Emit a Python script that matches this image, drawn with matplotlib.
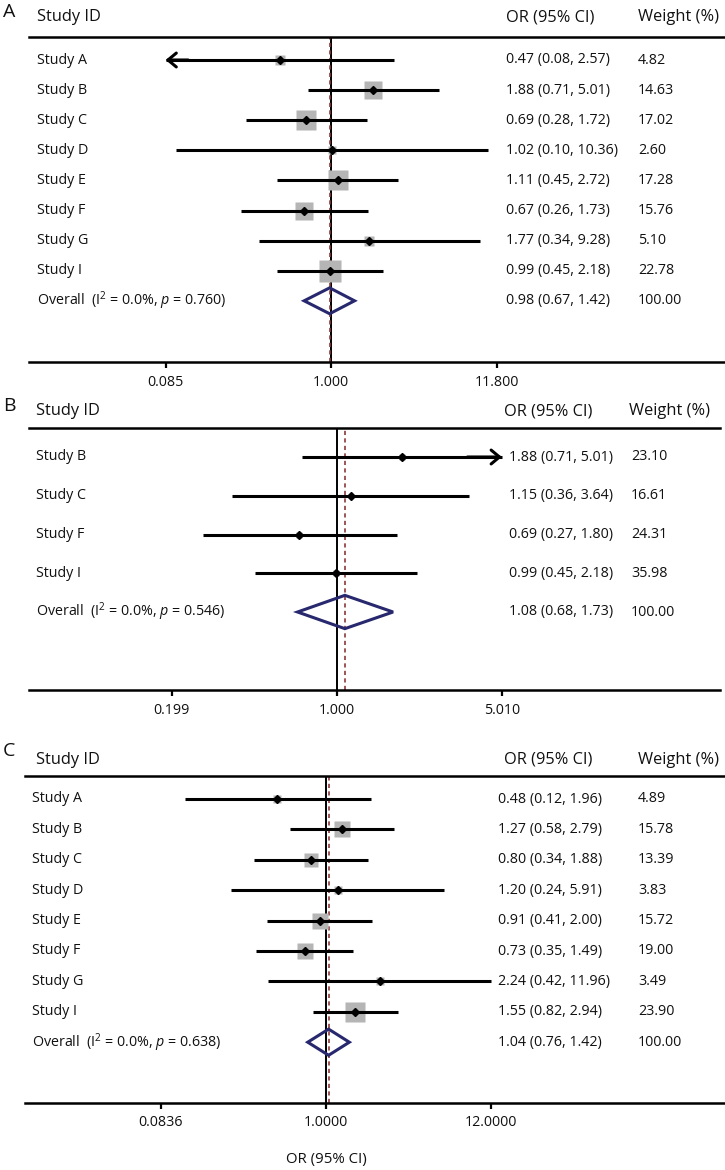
import numpy as np
import matplotlib
matplotlib.use("Agg")
import matplotlib.pyplot as plt
import matplotlib.transforms as mtransforms
from matplotlib.patches import Polygon

plt.rcParams["font.family"] = ["Open Sans", "DejaVu Sans"]
plt.rcParams["mathtext.fontset"] = "custom"
plt.rcParams["mathtext.rm"] = "Open Sans"
plt.rcParams["mathtext.it"] = "Open Sans:italic"

W, H = 725, 1170

# ---- data -------------------------------------------------------------
studies_a = ["Study A", "Study B", "Study C", "Study D", "Study E", "Study F", "Study G", "Study I"]
or_a = [0.47, 1.88, 0.69, 1.02, 1.11, 0.67, 1.77, 0.99]
lo_a = [0.08, 0.71, 0.28, 0.10, 0.45, 0.26, 0.34, 0.45]
hi_a = [2.57, 5.01, 1.72, 10.36, 2.72, 1.73, 9.28, 2.18]
w_a = [4.82, 14.63, 17.02, 2.60, 17.28, 15.76, 5.10, 22.78]
overall_a = [0.98, 0.67, 1.42, 100.00]
p_a = "0.760"
ticks_a = [0.085, 1.0, 11.8]
tick_labels_a = ["0.085", "1.000", "11.800"]

studies_b = ["Study B", "Study C", "Study F", "Study I"]
or_b = [1.88, 1.15, 0.69, 0.99]
lo_b = [0.71, 0.36, 0.27, 0.45]
hi_b = [5.01, 3.64, 1.80, 2.18]
w_b = [23.10, 16.61, 24.31, 35.98]
overall_b = [1.08, 0.68, 1.73, 100.00]
p_b = "0.546"
ticks_b = [0.199, 1.0, 5.01]
tick_labels_b = ["0.199", "1.000", "5.010"]

studies_c = ["Study A", "Study B", "Study C", "Study D", "Study E", "Study F", "Study G", "Study I"]
or_c = [0.48, 1.27, 0.80, 1.20, 0.91, 0.73, 2.24, 1.55]
lo_c = [0.12, 0.58, 0.34, 0.24, 0.41, 0.35, 0.42, 0.82]
hi_c = [1.96, 2.79, 1.88, 5.91, 2.00, 1.49, 11.96, 2.94]
w_c = [4.89, 15.78, 13.39, 3.83, 15.72, 19.00, 3.49, 23.90]
overall_c = [1.04, 0.76, 1.42, 100.00]
p_c = "0.638"
ticks_c = [0.0836, 1.0, 12.0]
tick_labels_c = ["0.0836", "1.0000", "12.0000"]

# ---- layout (pixel positions) ----------------------------------------
layout_a = dict(letter_y=12, head_y=17, top=37, bottom=362, row0=60, dy=30.1,
                left=29, right=725, one=331, k=67.1, lab_x=37, head_x=37,
                or_x=506, orh_x=506, w_x=638, wh_x=638, sq=3.4)
layout_b = dict(letter_y=406, head_y=411, top=428, bottom=690, row0=457, dy=38.75,
                left=29, right=720, one=337, k=102.3, lab_x=36, head_x=36,
                or_x=509, orh_x=504, w_x=631, wh_x=629, sq=0.8)
layout_c = dict(letter_y=751, head_y=760, top=776, bottom=1103, row0=799, dy=30.4,
                left=25, right=725, one=326, k=66.55, lab_x=32, head_x=36,
                or_x=498, orh_x=504, w_x=638, wh_x=638, sq=2.8)

GREY = "#b5b5b5"
NAVY = "#28286e"
RED = "#8b3a3a"
TXT = "#111111"
FS = 10.3
FS_HEAD = 11.8

fig = plt.figure(figsize=(W / 100, H / 100), dpi=100)


def draw_panel(letter, studies, ors, los, his, ws, overall, pval, ticks, tick_labels, lay):
    ax = fig.add_axes([lay["left"] / W, 1 - lay["bottom"] / H,
                       (lay["right"] - lay["left"]) / W, (lay["bottom"] - lay["top"]) / H])
    ax.set_xscale("log")
    ax.set_xlim(np.exp((lay["left"] - lay["one"]) / lay["k"]),
                np.exp((lay["right"] - lay["one"]) / lay["k"]))
    row = lambda py: (py - lay["row0"]) / lay["dy"]
    ax.set_ylim(row(lay["bottom"]), row(lay["top"]))

    for s in ["left", "right"]:
        ax.spines[s].set_visible(False)
    for s in ["top", "bottom"]:
        ax.spines[s].set_linewidth(1.8)
    ax.set_yticks([])
    ax.set_xticks(ticks, tick_labels)
    ax.set_xticks([], minor=True)
    ax.tick_params(axis="x", direction="out", length=4, width=1.6, pad=5,
                   labelsize=FS, labelcolor=TXT)

    tmin, tmax = ticks[0], ticks[-1]
    ax.axvline(1.0, color="black", lw=1.4, zorder=1)
    ax.axvline(overall[0], color=RED, lw=1.2, ls=(0, (2.5, 2)), zorder=2)

    blend = mtransforms.blended_transform_factory(fig.transFigure, ax.transData)
    arrow = dict(arrowstyle="->,head_length=0.6,head_width=0.5",
                 lw=2.2, color="black", shrinkA=0, shrinkB=0)
    n = len(studies)
    for i in range(n):
        lo = max(los[i], tmin)
        hi = min(his[i], tmax)
        ax.plot(ors[i], i, marker="s", ms=lay["sq"] * np.sqrt(ws[i]), color=GREY,
                mec="none", ls="none", zorder=3)
        ax.plot([lo, hi], [i, i], color="black", lw=2.2, solid_capstyle="butt", zorder=4)
        if los[i] < tmin:
            ax.annotate("", xy=(tmin, i), xytext=(tmin * 1.4, i), arrowprops=arrow)
        if his[i] >= tmax:
            ax.annotate("", xy=(tmax, i), xytext=(tmax / 1.4, i), arrowprops=arrow)
        ax.plot(ors[i], i, marker="D", ms=3.6, color="black", ls="none", zorder=5)

        ax.text(lay["lab_x"] / W, i, studies[i], transform=blend, va="center",
                ha="left", fontsize=FS, color=TXT)
        ax.text(lay["or_x"] / W, i, f"{ors[i]:.2f} ({los[i]:.2f}, {his[i]:.2f})",
                transform=blend, va="center", ha="left", fontsize=FS, color=TXT)
        ax.text(lay["w_x"] / W, i, f"{ws[i]:.2f}", transform=blend, va="center",
                ha="left", fontsize=FS, color=TXT)

    # pooled estimate
    est, olo, ohi, ow = overall
    h = 0.43
    ax.add_patch(Polygon([(olo, n), (est, n - h), (ohi, n), (est, n + h)], closed=True,
                         fill=False, ec=NAVY, lw=2.2, joinstyle="miter", zorder=6))
    ax.text(lay["lab_x"] / W, n,
            r"Overall  ($\mathregular{I^2}$ = 0.0%, $p$ = " + pval + ")",
            transform=blend, va="center", ha="left", fontsize=FS, color=TXT)
    ax.text(lay["or_x"] / W, n, f"{est:.2f} ({olo:.2f}, {ohi:.2f})", transform=blend,
            va="center", ha="left", fontsize=FS, color=TXT)
    ax.text(lay["w_x"] / W, n, f"{ow:.2f}", transform=blend, va="center",
            ha="left", fontsize=FS, color=TXT)

    # headers
    hy = row(lay["head_y"])
    ax.text(lay["head_x"] / W, hy, "Study ID", transform=blend, va="center",
            fontsize=FS_HEAD, color=TXT)
    ax.text(lay["orh_x"] / W, hy, "OR (95% CI)", transform=blend, va="center",
            fontsize=FS_HEAD, color=TXT)
    ax.text(lay["wh_x"] / W, hy, "Weight (%)", transform=blend, va="center",
            fontsize=FS_HEAD, color=TXT)
    fig.text(3 / W, 1 - lay["letter_y"] / H, letter, fontsize=14, va="center",
             color=TXT)
    return ax


draw_panel("A", studies_a, or_a, lo_a, hi_a, w_a, overall_a, p_a, ticks_a, tick_labels_a, layout_a)
draw_panel("B", studies_b, or_b, lo_b, hi_b, w_b, overall_b, p_b, ticks_b, tick_labels_b, layout_b)
draw_panel("C", studies_c, or_c, lo_c, hi_c, w_c, overall_c, p_c, ticks_c, tick_labels_c, layout_c)

fig.text(326 / W, 1 - 1160 / H, "OR (95% CI)", ha="center", va="center",
         fontsize=10.8, color=TXT)

fig.savefig("out.png", dpi=100)
